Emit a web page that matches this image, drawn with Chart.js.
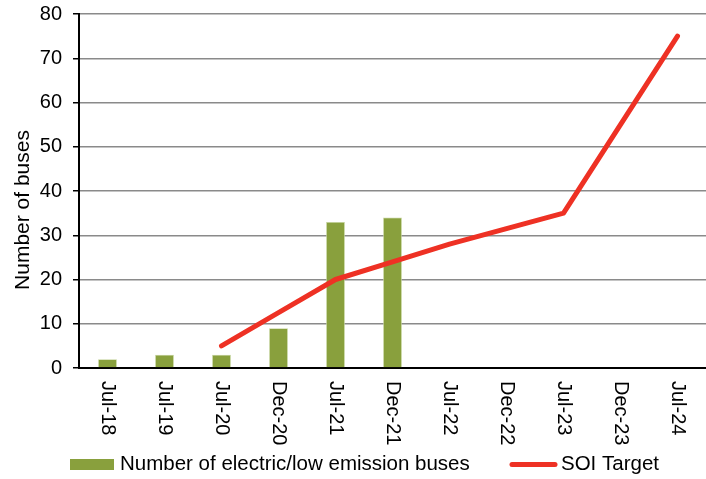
<!DOCTYPE html>
<html>
<head>
<meta charset="utf-8">
<script src="https://cdn.jsdelivr.net/npm/chart.js@4/dist/chart.umd.min.js"></script>
<style>
  html, body { margin: 0; padding: 0; background: #fff; }
  #wrap { width: 706px; height: 479px; }
</style>
</head>
<body>
<div id="wrap"><canvas id="c" width="706" height="479"></canvas></div>
<script>
const categories = ['Jul-18','Jul-19','Jul-20','Dec-20','Jul-21','Dec-21','Jul-22','Dec-22','Jul-23','Dec-23','Jul-24'];
const busesActual = [2, 3, 3, 9, 33, 34, null, null, null, null, null];
const soiTarget = [null, null, 5, 12.5, 20, 24, 28, 31.5, 35, 55, 75];
const yTicks = [0, 10, 20, 30, 40, 50, 60, 70, 80];
const seriesNames = ['Number of electric/low emission buses', 'SOI Target'];
const yTitle = 'Number of buses';

const FONT = '"Liberation Sans", Arial, sans-serif';
const BAR_COLOR = '#89A03D';
const LINE_COLOR = '#EE3124';

const customDraw = {
  id: 'customDraw',
  afterDraw(chart) {
    const ctx = chart.ctx;
    const xs = chart.scales.x;
    ctx.save();
    ctx.fillStyle = '#000';
    ctx.font = '20px ' + FONT;
    ctx.textAlign = 'left';
    ctx.textBaseline = 'middle';
    categories.forEach((lab, i) => {
      const x = xs.getPixelForValue(i);
      ctx.save();
      ctx.translate(x, chart.chartArea.bottom + 13);
      ctx.rotate(Math.PI / 2);
      ctx.fillText(lab, 0, 0);
      ctx.restore();
    });
    ctx.save();
    ctx.font = '21px ' + FONT;
    ctx.textAlign = 'center';
    ctx.textBaseline = 'middle';
    ctx.translate(23, 210);
    ctx.rotate(-Math.PI / 2);
    ctx.fillText(yTitle, 0, 0);
    ctx.restore();
    const ds = chart.data.datasets;
    ctx.font = '20.5px ' + FONT;
    ctx.textAlign = 'left';
    ctx.textBaseline = 'middle';
    const ly = 464.5;
    ctx.fillStyle = ds[0].backgroundColor;
    ctx.fillRect(70, ly - 5.5, 44, 11);
    ctx.fillStyle = '#000';
    ctx.fillText(ds[0].label, 120, ly);
    ctx.strokeStyle = ds[1].borderColor;
    ctx.lineWidth = 5;
    ctx.lineCap = 'round';
    ctx.beginPath();
    ctx.moveTo(512, ly);
    ctx.lineTo(555, ly);
    ctx.stroke();
    ctx.fillStyle = '#000';
    ctx.fillText(ds[1].label, 561, ly);
    ctx.restore();
  }
};

new Chart(document.getElementById('c'), {
  data: {
    labels: categories,
    datasets: [
      {
        type: 'bar',
        label: seriesNames[0],
        data: busesActual,
        backgroundColor: BAR_COLOR,
        borderColor: '#c4d39c',
        borderWidth: 0.8,
        barPercentage: 0.33,
        categoryPercentage: 1,
        order: 2
      },
      {
        type: 'line',
        label: seriesNames[1],
        data: soiTarget,
        borderColor: LINE_COLOR,
        backgroundColor: LINE_COLOR,
        borderWidth: 5,
        pointRadius: 0,
        tension: 0,
        borderCapStyle: 'round',
        borderJoinStyle: 'round',
        order: 1
      }
    ]
  },
  options: {
    responsive: false,
    animation: false,
    devicePixelRatio: 1,
    layout: { padding: { top: 14, right: 0, bottom: 0, left: 0 } },
    plugins: {
      legend: { display: false },
      tooltip: { enabled: false }
    },
    scales: {
      x: {
        type: 'category',
        offset: true,
        grid: { display: false, drawTicks: false },
        border: { display: true, color: '#000', width: 2 },
        ticks: { display: false },
        afterFit(scale) { scale.height = 111; scale.paddingLeft = 0; scale.paddingRight = 0; }
      },
      y: {
        min: 0,
        max: 80,
        afterBuildTicks(scale) { scale.ticks = yTicks.map(v => ({ value: v })); },
        grid: { color: '#8a8a8a', lineWidth: 1.5, drawTicks: true, tickLength: 6, tickColor: '#000' },
        border: { display: true, color: '#000', width: 2 },
        ticks: { color: '#000', padding: 11, font: { size: 20, family: FONT } },
        title: { display: false },
        afterFit(scale) { scale.width = 79; scale.paddingTop = 0; scale.paddingBottom = 0; }
      }
    }
  },
  plugins: [customDraw]
});
</script>
</body>
</html>
